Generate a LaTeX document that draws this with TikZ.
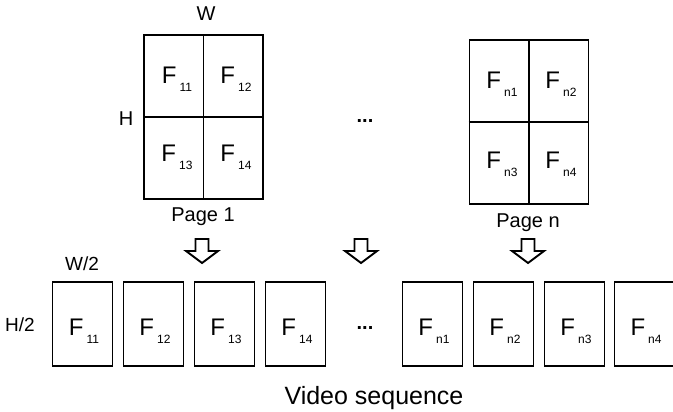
\documentclass[tikz,border=0pt]{standalone}
\usepackage{fontspec}
\setmainfont{Liberation Sans}
\usetikzlibrary{calc}
\newcommand\flab[1]{\fontsize{24}{24}\selectfont F\kern3pt\raisebox{-8pt}{\fontsize{12}{12}\selectfont #1}}
\tikzset{
  pagebox/.style={draw, line width=1.9pt, minimum width=119pt, minimum height=164pt, inner sep=0pt},
  framebox/.style={draw, line width=1.7pt, minimum width=60pt, minimum height=84pt, inner sep=0pt},
  flabel/.style={anchor=base, inner sep=0pt},
  txt/.style={inner sep=0pt, font=\fontsize{20}{20}\selectfont},
  blockarrow/.style={draw, line width=1.9pt, line join=miter, fill=white},
}
\begin{document}
\begin{tikzpicture}[x=1pt,y=-1pt]
\useasboundingbox (0,0) rectangle (673,412);
% Page 1
\node[pagebox] (p1) at (203.5,117) {};
\draw[line width=1.9pt] (p1.north) -- (p1.south);
\draw[line width=1.9pt] (p1.west) -- (p1.east);
\node[flabel] (a11) at (177,84) {\flab{11}};
\node[flabel] (a12) at (236,84) {\flab{12}};
\node[flabel] (a13) at (177,161) {\flab{13}};
\node[flabel] (a14) at (236,161) {\flab{14}};
\node[txt] (W) at (206,14) {W};
\node[txt] (H) at (126,119) {H};
\node[txt, anchor=base] (pg1) at (203,222) {Page 1};
% Page n
\node[pagebox] (pn) at (529,122) {};
\draw[line width=1.9pt] (pn.north) -- (pn.south);
\draw[line width=1.9pt] (pn.west) -- (pn.east);
\node[flabel] (b1) at (502,89) {\flab{n1}};
\node[flabel] (b2) at (561,89) {\flab{n2}};
\node[flabel] (b3) at (502,168) {\flab{n3}};
\node[flabel] (b4) at (561,168) {\flab{n4}};
\node[txt, anchor=base] (pgn) at (528,227) {Page n};
\node[txt, anchor=base, font=\fontsize{20}{20}\selectfont\bfseries] (dt1) at (365,122) {...};
% arrows
\foreach \cx/\nm in {202/ar1, 361/ar2, 528/ar3}{
  \coordinate (\nm) at (\cx,239);
  \draw[blockarrow] (\cx-6.5,239) -- (\cx+6.5,239) -- (\cx+6.5,251) -- (\cx+16,251)
     -- (\cx,263) -- (\cx-16,251) -- (\cx-6.5,251) -- cycle;
}
% video frames
\foreach \lx/\nm/\lb in {52/f1/11, 123/f2/12, 194/f3/13, 265/f4/14, 402/f5/n1, 473/f6/n2, 544/f7/n3, 614/f8/n4}{
  \node[framebox] (\nm) at (\lx+30.5,324) {};
  \node[flabel] (l\nm) at (\lx+32,335) {\flab{\lb}};
}
\node[txt, anchor=base, font=\fontsize{19}{19}\selectfont] (w2) at (82,270) {W/2};
\node[txt, anchor=base, font=\fontsize{19}{19}\selectfont] (h2) at (20,331) {H/2};
\node[txt, anchor=base, font=\fontsize{20}{20}\selectfont\bfseries] (dt2) at (365,329) {...};
\node[txt, anchor=base, font=\fontsize{25}{25}\selectfont] (vs) at (374,404) {Video sequence};
\end{tikzpicture}
\end{document}
